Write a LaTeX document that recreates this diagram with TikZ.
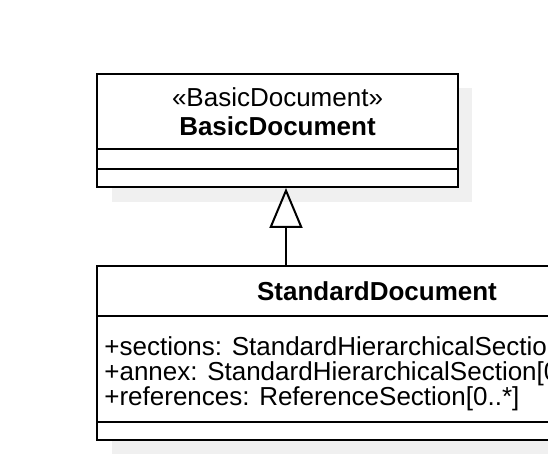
\documentclass[tikz,border=0pt]{standalone}
\usepackage{fontspec}
\setmainfont{Liberation Sans}
\usetikzlibrary{arrows.meta, positioning, calc}

\begin{document}
\begin{tikzpicture}[x=0.5pt, y=-0.5pt,
    box/.style={draw, line width=1pt, fill=white, inner sep=0pt},
    schrift/.style={font=\fontsize{13}{14.5}\selectfont},
    attr/.style={inner sep=0pt, align=left, anchor=west, font=\fontsize{13}{12.5}\selectfont}]
    \useasboundingbox (0,0) rectangle (548,466);
    \clip (0,0) rectangle (548,466);

    % Schatten
    \fill[black!6] (112,88) rectangle (472,202);
    \fill[black!6] (112,280) rectangle (672,454);

    % BasicDocument
    \node[box, schrift, align=center, minimum width=180.5pt, minimum height=37.5pt] (basicKopf) at (277.5,111.5) {«BasicDocument»\\\textbf{BasicDocument}};
    \node[box, minimum width=180.5pt, minimum height=10pt] (basicAttr) at (277.5,159) {};
    \node[box, minimum width=180.5pt, minimum height=9pt] (basicOp) at (277.5,178) {};

    % StandardDocument
    \node[box, schrift, minimum width=280pt, minimum height=25pt] (stdKopf) at (377,291) {\textbf{StandardDocument}};
    \node[box, minimum width=280pt, minimum height=53pt] (stdAttr) at (377,369) {};
    \node[box, minimum width=280pt, minimum height=9pt] (stdOp) at (377,431) {};
    \node[attr] (stdText) at ($(stdAttr.west)+(8,5)$) {+sections: StandardHierarchicalSection[0..*]\\+annex: StandardHierarchicalSection[0..*]\\+references: ReferenceSection[0..*]};

    % Generalisierung
    \coordinate (spitze) at ($(basicOp.south)+(8.5,0)$);
    \draw[line width=1pt, -{Triangle[open, width=33*0.5pt, length=40*0.5pt, line width=1pt]}] (stdKopf.north -| spitze) -- (spitze);
\end{tikzpicture}
\end{document}
